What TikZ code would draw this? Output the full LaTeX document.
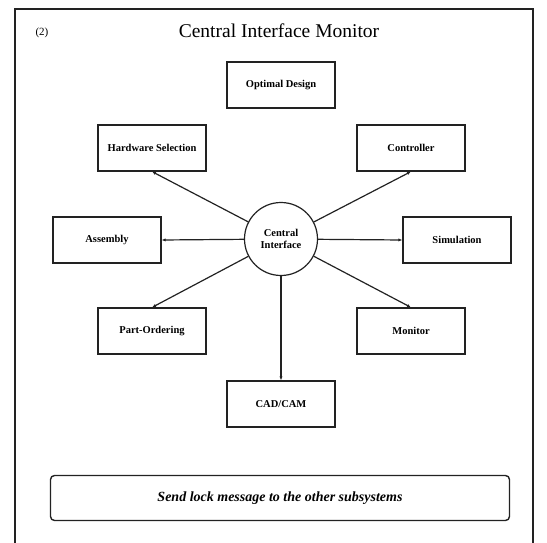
\documentclass[tikz,border=0pt]{standalone}
\usepackage{fontspec}
\setmainfont{Liberation Serif}
\usetikzlibrary{arrows.meta,positioning}
\definecolor{ink}{HTML}{222222}

\begin{document}
\begin{tikzpicture}[
    x=1pt, y=-1pt,
    module/.style={draw=ink, line width=1.2pt, minimum width=108pt,
                   minimum height=46pt, inner sep=0pt,
                   font=\bfseries\fontsize{10.5}{12}\selectfont},
    hub/.style={draw=ink, circle, line width=1.2pt, minimum size=73pt,
                inner sep=0pt, align=center,
                font=\bfseries\fontsize{10.5}{12.5}\selectfont},
    spoke/.style={ink, line width=1.2pt, -{Latex[length=4pt,width=3.2pt]}},
    banner/.style={draw=ink, line width=1.4pt, rounded corners=4pt,
                   minimum width=459pt, minimum height=45pt, inner sep=0pt,
                   font=\bfseries\itshape\fontsize{14}{16}\selectfont}
]

\useasboundingbox (0,0) rectangle (547,543);

% outer frame, open at the foot of the page
\draw[ink, line width=1.5pt] (15,543) -- (15,9) -- (533,9) -- (533,543);

\node[font=\fontsize{11}{13}\selectfont] (tag) at (42,33) {(2)};
\node[font=\fontsize{19.5}{22}\selectfont] (title) at (279,31) {Central Interface Monitor};

\node[module] (optd) at (281,85) {Optimal Design};
\node[module] (hwsel) at (152,148) {Hardware Selection};
\node[module] (ctrl) at (411,148) {Controller};
\node[module] (asm) at (107,240) {Assembly};
\node[module] (sim) at (457,240) {Simulation};
\node[module] (part) at (152,331) {Part-Ordering};
\node[module] (mon) at (411,331) {Monitor};
\node[module] (cadcam) at (281,404) {CAD/CAM};

\node[hub] (ci) at (281,239) {Central\\Interface};

\draw[spoke] (ci) -- (hwsel.south);
\draw[spoke] (ci) -- (ctrl.south);
\draw[spoke] (ci) -- (asm.east);
\draw[spoke] (ci) -- (sim.west);
\draw[spoke] (ci) -- (part.north);
\draw[spoke] (ci) -- (mon.north);
\draw[spoke] (ci) -- (cadcam.north);

\node[banner] (lockmsg) at (280,498) {Send lock message to the other subsystems};

\end{tikzpicture}
\end{document}
